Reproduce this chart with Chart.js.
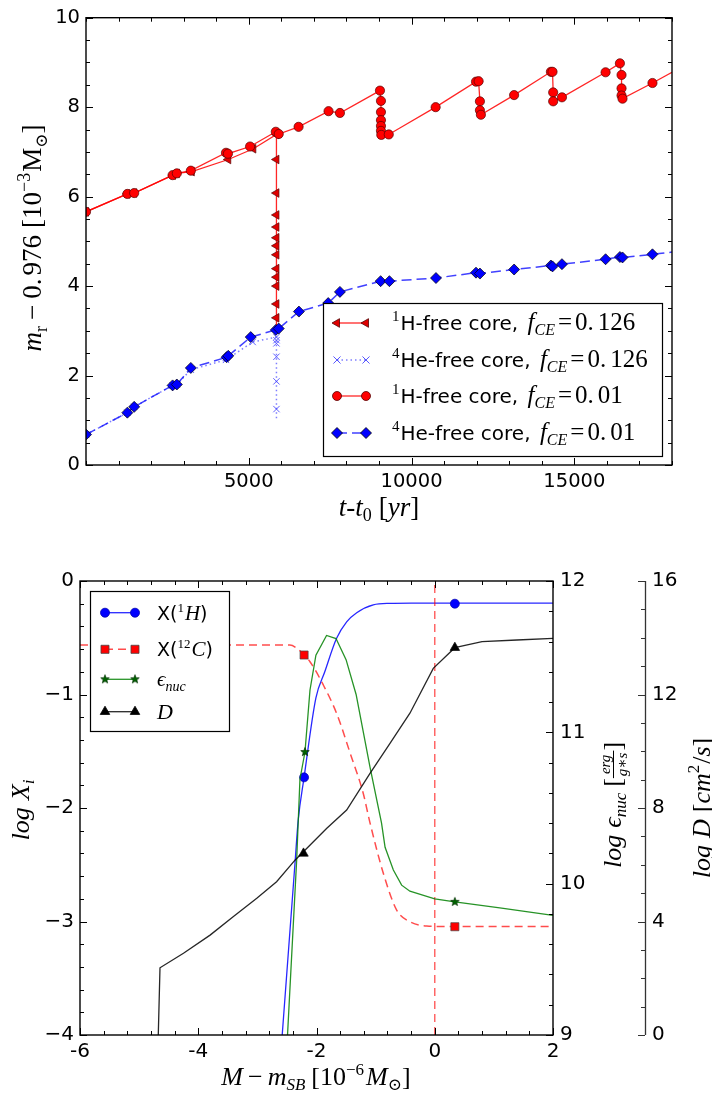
<!DOCTYPE html>
<html>
<head>
<meta charset="utf-8">
<script src="https://cdn.jsdelivr.net/npm/chart.js"></script>
<style>
  html, body { margin: 0; padding: 0; background: #fff; }
  #topChart { position: absolute; left: 0; top: 0; }
  #botChart { position: absolute; left: 0; top: 540px; }
</style>
</head>
<body>
<canvas id="topChart" width="712" height="540"></canvas>
<canvas id="botChart" width="712" height="555"></canvas>
<script>
  // ---------- top panel: t - t0 [yr] vs m_r - 0.976 [1e-3 Msun] ----------
  const h126T = [0, 1270, 1480, 2670, 2790, 3250, 4370, 5140, 5850, 5850, 5850, 5850, 5850, 5850, 5850, 5850, 5850, 5850, 5850, 5850, 5850, 5850];
  const h126M = [5.66, 6.06, 6.08, 6.48, 6.52, 6.56, 6.83, 7.07, 7.39, 6.83, 6.08, 5.59, 5.32, 5.08, 4.90, 4.70, 4.39, 4.20, 4.00, 3.60, 3.29, 3.04];

  const he126T = [0, 1270, 1480, 2660, 2790, 3220, 4300, 5120, 5850, 5850, 5850, 5850, 5850, 5850, 5850];
  const he126M = [0.68, 1.17, 1.30, 1.78, 1.80, 2.13, 2.35, 2.75, 2.86, 2.79, 2.72, 2.42, 1.87, 1.25, 1.03];

  const h01T = [0, 1270, 1480, 2660, 2790, 3220, 4300, 4360, 5040, 5830, 5920, 6530, 7450, 7800,
                9030, 9060, 9060, 9060, 9060, 9060, 9070, 9300, 10740, 11980, 12060, 12100, 12100, 12130,
                13150, 14280, 14330, 14350, 14350, 14620, 15960, 16400, 16450, 16450, 16450, 16480, 17400, 18000];
  const h01M = [5.66, 6.06, 6.08, 6.48, 6.52, 6.58, 6.98, 6.96, 7.12, 7.45, 7.40, 7.56, 7.91, 7.87,
                8.37, 8.14, 7.89, 7.71, 7.58, 7.47, 7.38, 7.39, 8.00, 8.57, 8.58, 8.13, 7.93, 7.83,
                8.27, 8.79, 8.79, 8.33, 8.13, 8.22, 8.78, 8.98, 8.72, 8.42, 8.26, 8.19, 8.54, 8.78];

  const he01T = [0, 1270, 1480, 2660, 2790, 3220, 4320, 4370, 5060, 5830, 5920, 6540, 7440, 7800,
                 9050, 9320, 10750, 11980, 12100, 13150, 14280, 14330, 14620, 15960, 16400, 16480, 17400, 18000];
  const he01M = [0.68, 1.17, 1.30, 1.78, 1.80, 2.17, 2.41, 2.44, 2.86, 3.02, 3.05, 3.43, 3.62, 3.87,
                 4.11, 4.11, 4.18, 4.30, 4.28, 4.37, 4.46, 4.44, 4.49, 4.60, 4.65, 4.64, 4.71, 4.76];

  const topXTicks = [5000, 10000, 15000];
  const topYTicks = [0, 2, 4, 6, 8, 10];

  // ---------- bottom panel: M - m_SB [1e-6 Msun] ----------
  const hX = [-2.58, -2.36, -2.31, -2.21, -2.01, -1.86, -1.66, -1.49, -1.32, -1.04, -0.76, -0.40, 0.34, 2.0];
  const hY = [-4.0, -2.46, -2.11, -1.73, -1.03, -0.80, -0.505, -0.36, -0.28, -0.21, -0.197, -0.195, -0.195, -0.195];
  const hMarkX = [-2.21, 0.34];
  const hMarkY = [-1.73, -0.20];

  const cX = [-6.0, -2.45, -2.33, -2.21, -2.11, -1.885, -1.66, -1.43, -1.21, -1.10, -0.87, -0.644, -0.419, -0.136, 0.34, 2.0];
  const cY = [-0.564, -0.564, -0.593, -0.652, -0.711, -0.916, -1.166, -1.518, -1.87, -2.12, -2.575, -2.899, -3.002, -3.04, -3.045, -3.045];
  const cMarkX = [-2.21, 0.34];
  const cMarkY = [-0.652, -3.046];

  const epsX = [-2.49, -2.335, -2.28, -2.195, -2.11, -2.01, -1.83, -1.67, -1.50, -1.33, -1.095, -0.90, -0.84, -0.70, -0.56, -0.42, 0.0, 0.34, 1.10, 1.64, 2.0];
  const epsY = [9.0, 10.16, 10.69, 10.87, 11.28, 11.51, 11.64, 11.62, 11.48, 11.25, 10.77, 10.40, 10.24, 10.09, 9.99, 9.95, 9.90, 9.88, 9.84, 9.81, 9.79];
  const epsMarkX = [-2.195, 0.34];
  const epsMarkY = [10.87, 9.88];

  const dX = [-4.676, -4.647, -4.25, -3.80, -3.41, -3.01, -2.675, -2.36, -1.83, -1.49, -1.095, -0.757, -0.42, -0.025, 0.34, 0.80, 1.39, 2.0];
  const dY = [0, 2.37, 2.88, 3.52, 4.17, 4.82, 5.40, 6.17, 7.28, 7.93, 9.22, 10.28, 11.34, 12.92, 13.65, 13.86, 13.92, 13.98];
  const dMarkX = [-2.22, 0.34];
  const dMarkY = [6.40, 13.65];

  const sbX = [0, 0];
  const sbY = [-4, 0];

  const botXTicks = [-6, -4, -2, 0, 2];
  const logXTicks = [-4, -3, -2, -1, 0];
  const epsTicks = [9, 10, 11, 12];
  const dTicks = [0, 4, 8, 12, 16];

  // ---------- helpers ----------
  const SANS = "'DejaVu Sans', sans-serif";
  const SERIF = "'Liberation Serif', 'DejaVu Serif', serif";
  Chart.defaults.color = '#000';
  Chart.defaults.font.family = SANS;

  const pts = (xs, ys) => xs.map((x, i) => ({ x: x, y: ys[i] }));
  const steps = (a, b, s) => {
    const out = [];
    for (let i = 0; a + i * s <= b + 1e-9; i++) out.push(+(a + i * s).toFixed(6));
    return out;
  };
  const noLast = r => c => (c.dataIndex === c.dataset.data.length - 1 ? 0 : r);
  const fixTicks = list => s => { s.ticks = list.map(v => ({ value: v })); };

  const it = (t, s, dy, g) => ({ t: t, f: 'italic ' + s + 'px ' + SERIF, dy: dy || 0, g: g || 0 });
  const rm = (t, s, dy, g) => ({ t: t, f: s + 'px ' + SERIF, dy: dy || 0, g: g || 0 });
  const sa = (t, s, dy, g) => ({ t: t, f: s + 'px ' + SANS, dy: dy || 0, g: g || 0 });

  function partWidth(ctx, p) {
    ctx.font = p.f;
    if (p.frac) return Math.max(ctx.measureText(p.frac[0]).width, ctx.measureText(p.frac[1]).width) + 4 + p.g;
    return ctx.measureText(p.t).width + p.g;
  }
  function richWidth(ctx, parts) {
    return parts.reduce((w, p) => w + partWidth(ctx, p), 0);
  }
  function drawRich(ctx, parts, x, y) {
    ctx.fillStyle = '#000';
    ctx.textBaseline = 'alphabetic';
    ctx.textAlign = 'left';
    parts.forEach(p => {
      ctx.font = p.f;
      if (p.frac) {
        const w1 = ctx.measureText(p.frac[0]).width, w2 = ctx.measureText(p.frac[1]).width;
        const w = Math.max(w1, w2) + 4;
        ctx.fillText(p.frac[0], x + (w - w1) / 2, y - 11);
        ctx.fillText(p.frac[1], x + (w - w2) / 2, y + 6);
        ctx.save();
        ctx.strokeStyle = '#000';
        ctx.lineWidth = 1;
        ctx.beginPath();
        ctx.moveTo(x, y - 7.5);
        ctx.lineTo(x + w, y - 7.5);
        ctx.stroke();
        ctx.restore();
      } else {
        ctx.fillText(p.t, x, y + p.dy);
      }
      x += partWidth(ctx, p);
    });
  }
  function title(ctx, parts, cx, cy, rot, base) {
    ctx.save();
    ctx.translate(cx, cy);
    if (rot) ctx.rotate(rot);
    const w = richWidth(ctx, parts);
    drawRich(ctx, parts, -w / 2, base);
    ctx.restore();
  }

  function starImg(r, fill, edge) {
    const c = document.createElement('canvas');
    c.width = c.height = Math.ceil(2 * r + 3);
    const g = c.getContext('2d');
    const m = c.width / 2;
    g.beginPath();
    for (let i = 0; i < 10; i++) {
      const a = -Math.PI / 2 + i * Math.PI / 5;
      const rr = i % 2 ? r * 0.42 : r;
      const px = m + rr * Math.cos(a), py = m + rr * Math.sin(a);
      if (i === 0) g.moveTo(px, py); else g.lineTo(px, py);
    }
    g.closePath();
    g.fillStyle = fill;
    g.fill();
    g.strokeStyle = edge;
    g.lineWidth = 0.7;
    g.stroke();
    return c;
  }
  const STAR = starImg(4.5, '#006400', '#003000');

  function drawMark(ctx, m, x, y) {
    ctx.save();
    ctx.setLineDash([]);
    if (m.img) {
      ctx.drawImage(m.img, x - m.img.width / 2, y - m.img.height / 2);
      ctx.restore();
      return;
    }
    const r = m.r;
    ctx.fillStyle = m.fill || '#000';
    ctx.strokeStyle = m.edge || '#000';
    ctx.lineWidth = m.lw || 0.8;
    ctx.beginPath();
    if (m.shape === 'circle') {
      ctx.arc(x, y, r, 0, Math.PI * 2);
    } else if (m.shape === 'diamond') {
      ctx.moveTo(x - r, y); ctx.lineTo(x, y - r); ctx.lineTo(x + r, y); ctx.lineTo(x, y + r); ctx.closePath();
    } else if (m.shape === 'triLeft') {
      ctx.moveTo(x - r, y); ctx.lineTo(x + r / 2, y - r * 0.866); ctx.lineTo(x + r / 2, y + r * 0.866); ctx.closePath();
    } else if (m.shape === 'triUp') {
      ctx.moveTo(x, y - r); ctx.lineTo(x + r * 0.866, y + r / 2); ctx.lineTo(x - r * 0.866, y + r / 2); ctx.closePath();
    } else if (m.shape === 'square') {
      const s = r * Math.SQRT1_2;
      ctx.rect(x - s, y - s, 2 * s, 2 * s);
    } else if (m.shape === 'x') {
      const s = r * Math.SQRT1_2;
      ctx.moveTo(x - s, y - s); ctx.lineTo(x + s, y + s);
      ctx.moveTo(x + s, y - s); ctx.lineTo(x - s, y + s);
    }
    if (m.shape !== 'x') ctx.fill();
    ctx.stroke();
    ctx.restore();
  }

  function drawLegend(ctx, box, rows) {
    ctx.save();
    ctx.fillStyle = '#fff';
    ctx.fillRect(box.x, box.y, box.w, box.h);
    ctx.strokeStyle = '#000';
    ctx.lineWidth = 1.2;
    ctx.setLineDash([]);
    ctx.strokeRect(box.x + 0.5, box.y + 0.5, box.w, box.h);
    rows.forEach((row, i) => {
      const y = box.rows[i];
      ctx.save();
      ctx.strokeStyle = row.line.color;
      ctx.lineWidth = row.line.w;
      ctx.setLineDash(row.line.dash || []);
      ctx.beginPath();
      ctx.moveTo(box.l0, y);
      ctx.lineTo(box.l1, y);
      ctx.stroke();
      ctx.restore();
      drawMark(ctx, row.mark, box.l0, y);
      drawMark(ctx, row.mark, box.l1, y);
      drawRich(ctx, row.text, box.tx, y + box.base);
    });
    ctx.restore();
  }

  function inTicks(ctx, scale, vals, len, edge, dir) {
    ctx.beginPath();
    vals.forEach(v => {
      const p = Math.round(scale.getPixelForValue(v)) + 0.5;
      if (scale.isHorizontal()) { ctx.moveTo(p, edge); ctx.lineTo(p, edge + dir * len); }
      else { ctx.moveTo(edge, p); ctx.lineTo(edge + dir * len, p); }
    });
    ctx.stroke();
  }

  // ---------- top chart ----------
  const RED_LINE = 'rgba(255,0,0,0.85)';
  const BLUE_DASH = 'rgba(0,0,255,0.75)';
  const BLUE_DOT = 'rgba(40,40,255,0.6)';

  const fce = v => {
    const parts = [it('f', 25), it('CE', 16, 5, 3), rm('=', 25, 0, 3)];
    const dot = v.indexOf('.') + 1;
    return parts.concat([rm(v.slice(0, dot), 25, 0, 4), rm(v.slice(dot), 25)]);
  };
  const topLegendRows = [
    { line: { color: RED_LINE, w: 1.3 }, mark: { shape: 'triLeft', r: 5, fill: '#e00000', edge: '#500' },
      text: [rm('1', 15, -9, 1), sa('H-free core, ', 20, 0, 3)].concat(fce('0.126')) },
    { line: { color: BLUE_DOT, w: 1.5, dash: [1.5, 3] }, mark: { shape: 'x', r: 5, edge: 'rgba(70,70,255,0.9)', lw: 1 },
      text: [rm('4', 15, -9, 1), sa('He-free core, ', 20, 0, 3)].concat(fce('0.126')) },
    { line: { color: RED_LINE, w: 1.3 }, mark: { shape: 'circle', r: 4.5, fill: '#ff0000', edge: '#500' },
      text: [rm('1', 15, -9, 1), sa('H-free core, ', 20, 0, 3)].concat(fce('0.01')) },
    { line: { color: BLUE_DASH, w: 1.5, dash: [10, 5] }, mark: { shape: 'diamond', r: 5.5, fill: '#0000ff', edge: '#000' },
      text: [rm('4', 15, -9, 1), sa('He-free core, ', 20, 0, 3)].concat(fce('0.01')) }
  ];

  const topDecor = {
    id: 'topDecor',
    afterDraw(chart) {
      const ctx = chart.ctx, a = chart.chartArea, x = chart.scales.x, y = chart.scales.y;
      ctx.save();
      ctx.strokeStyle = '#000';
      ctx.lineWidth = 1;
      const xm = steps(0, 18000, 1000), ym = steps(0, 10, 0.5);
      inTicks(ctx, x, xm, 4, a.bottom, -1);
      inTicks(ctx, x, xm, 4, a.top, 1);
      inTicks(ctx, x, topXTicks, 7, a.bottom, -1);
      inTicks(ctx, x, topXTicks, 7, a.top, 1);
      inTicks(ctx, y, ym, 4, a.left, 1);
      inTicks(ctx, y, ym, 4, a.right, -1);
      inTicks(ctx, y, topYTicks, 7, a.left, 1);
      inTicks(ctx, y, topYTicks, 7, a.right, -1);
      ctx.lineWidth = 1.4;
      ctx.strokeRect(a.left, a.top, a.right - a.left, a.bottom - a.top);
      ctx.restore();

      drawLegend(ctx, { x: 323, y: 303, w: 339, h: 153, rows: [323, 360, 396, 433], l0: 337, l1: 366, tx: 392, base: 7 }, topLegendRows);

      title(ctx, [it('m', 27), rm('r', 18, 6, 6), rm('\u2212', 27, 0, 6), rm('0.', 27, 0, 3), rm('976', 27, 0, 7),
                  rm('[10', 27), rm('\u22123', 18, -11, 1), rm('M', 27), rm('\u2299', 17, 6), rm(']', 27)],
            32, 238, -Math.PI / 2, 9);
      title(ctx, [it('t', 27), rm('-', 27), it('t', 27), rm('0', 18, 5, 7), rm('[', 27), it('yr', 27), rm(']', 27)],
            379, 508, 0, 8);
    }
  };

  new Chart(document.getElementById('topChart'), {
    type: 'scatter',
    data: {
      datasets: [
        {
          data: pts(h126T, h126M), showLine: true, order: 4, clip: 0,
          borderColor: RED_LINE, borderWidth: 1.3,
          pointStyle: 'triangle', rotation: -90, pointRadius: noLast(5),
          pointBackgroundColor: '#e00000', pointBorderColor: '#500', pointBorderWidth: 0.7
        },
        {
          data: pts(he126T, he126M), showLine: true, order: 3, clip: 0,
          borderColor: BLUE_DOT, borderWidth: 1.5, borderDash: [1.5, 3],
          pointStyle: 'crossRot', pointRadius: noLast(4.5),
          pointBorderColor: 'rgba(70,70,255,0.85)', pointBorderWidth: 1
        },
        {
          data: pts(h01T, h01M), showLine: true, order: 2, clip: 0,
          borderColor: RED_LINE, borderWidth: 1.3,
          pointStyle: 'circle', pointRadius: noLast(4.6),
          pointBackgroundColor: '#ff0000', pointBorderColor: '#500', pointBorderWidth: 0.7
        },
        {
          data: pts(he01T, he01M), showLine: true, order: 1, clip: 0,
          borderColor: BLUE_DASH, borderWidth: 1.5, borderDash: [10, 5],
          pointStyle: 'rectRot', pointRadius: noLast(5.5),
          pointBackgroundColor: '#0000ff', pointBorderColor: '#000', pointBorderWidth: 0.7
        }
      ]
    },
    options: {
      responsive: false,
      animation: false,
      events: [],
      layout: { padding: { top: 11, right: 40, left: 0, bottom: 0 }, autoPadding: false },
      plugins: { legend: { display: false }, tooltip: { enabled: false } },
      scales: {
        x: {
          type: 'linear', min: 0, max: 18000,
          afterBuildTicks: fixTicks(topXTicks),
          afterFit: s => { s.height = 75; },
          grid: { display: false, drawTicks: false }, border: { display: false },
          ticks: { font: { size: 19.5 }, color: '#000', padding: 5, maxRotation: 0, autoSkip: false, callback: v => String(v) }
        },
        y: {
          type: 'linear', min: 0, max: 10,
          afterBuildTicks: fixTicks(topYTicks),
          afterFit: s => { s.width = 86; },
          grid: { display: false, drawTicks: false }, border: { display: false },
          ticks: { font: { size: 19.5 }, color: '#000', padding: 6, callback: v => String(v) }
        }
      }
    },
    plugins: [topDecor]
  });

  // ---------- bottom chart ----------
  const C_BLUE = 'rgba(0,0,255,0.85)';
  const C_RED = 'rgba(255,0,0,0.7)';
  const C_GREEN = 'rgba(0,128,0,0.85)';
  const C_BLACK = 'rgba(0,0,0,0.85)';

  const botLegendRows = [
    { line: { color: C_BLUE, w: 1.3 }, mark: { shape: 'circle', r: 4.5, fill: '#0000ff', edge: '#0000aa' },
      text: [sa('X(', 19), rm('1', 13, -8, 1), it('H', 21), sa(')', 19)] },
    { line: { color: C_RED, w: 1.5, dash: [8, 5] }, mark: { shape: 'square', r: 5.7, fill: '#ff0000', edge: '#444' },
      text: [sa('X(', 19), rm('12', 13, -8, 1), it('C', 21), sa(')', 19)] },
    { line: { color: C_GREEN, w: 1.3 }, mark: { img: STAR },
      text: [it('\u03f5', 21), it('nuc', 14, 5)] },
    { line: { color: C_BLACK, w: 1.3 }, mark: { shape: 'triUp', r: 5.5, fill: '#000', edge: '#000' },
      text: [it('D', 22)] }
  ];

  const botDecor = {
    id: 'botDecor',
    afterDraw(chart) {
      const ctx = chart.ctx, a = chart.chartArea, s = chart.scales;
      ctx.save();
      ctx.strokeStyle = '#000';
      ctx.lineWidth = 1;
      const xm = steps(-6, 2, 0.4);
      inTicks(ctx, s.x, xm, 4, a.bottom, -1);
      inTicks(ctx, s.x, xm, 4, a.top, 1);
      inTicks(ctx, s.x, botXTicks, 7, a.bottom, -1);
      inTicks(ctx, s.x, botXTicks, 7, a.top, 1);
      inTicks(ctx, s.y, steps(-4, 0, 0.2), 4, a.left, 1);
      inTicks(ctx, s.y, logXTicks, 7, a.left, 1);
      inTicks(ctx, s.y1, steps(9, 12, 0.2), 4, a.right, -1);
      inTicks(ctx, s.y1, epsTicks, 7, a.right, -1);
      const ax2 = s.y2.left;
      ctx.strokeStyle = '#333';
      inTicks(ctx, s.y2, steps(0, 16, 1), 4, ax2, -1);
      inTicks(ctx, s.y2, dTicks, 7, ax2, -1);
      ctx.lineWidth = 1.3;
      ctx.beginPath();
      ctx.moveTo(ax2 + 0.5, a.top);
      ctx.lineTo(ax2 + 0.5, a.bottom);
      ctx.stroke();
      ctx.strokeStyle = '#000';
      ctx.lineWidth = 1.4;
      ctx.strokeRect(a.left, a.top, a.right - a.left, a.bottom - a.top);
      ctx.restore();

      drawLegend(ctx, { x: 90, y: 51, w: 139, h: 140, rows: [72.7, 109.3, 139.3, 171.7], l0: 105, l1: 135, tx: 157, base: 7 }, botLegendRows);

      title(ctx, [it('M', 26, 0, 5), rm('\u2212', 26, 0, 5), it('m', 26), it('SB', 17, 5, 6),
                  rm('[10', 26), rm('\u22126', 17, -10, 2), it('M', 26), rm('\u2299', 17, 5), rm(']', 26)],
            316, 537, 0, 8);
      title(ctx, [it('log', 26, 0, 7), it('X', 26), it('i', 17, 5)], 20, 270, -Math.PI / 2, 9);
      title(ctx, [it('log', 26, 0, 7), it('\u03f5', 26), it('nuc', 17, 5, 6), rm('[', 26),
                  { frac: ['erg', 'g\u2217s'], f: 'italic 15px ' + SERIF, g: 0 }, rm(']', 26)],
            612, 265, -Math.PI / 2, 9);
      title(ctx, [it('log', 26, 0, 7), it('D', 26, 0, 7), rm('[', 26), it('cm', 26), rm('2', 17, -11, 1),
                  rm('/', 26), it('s', 26), rm(']', 26)],
            701, 268, -Math.PI / 2, 9);
    }
  };

  new Chart(document.getElementById('botChart'), {
    type: 'scatter',
    data: {
      datasets: [
        { data: pts(hX, hY), yAxisID: 'y', showLine: true, order: 9, clip: 0, borderColor: C_BLUE, borderWidth: 1.3, pointRadius: 0,
          cubicInterpolationMode: 'monotone' },
        { data: pts(hMarkX, hMarkY), yAxisID: 'y', order: 8, clip: 0, pointStyle: 'circle', pointRadius: 4.5,
          pointBackgroundColor: '#0000ff', pointBorderColor: '#0000aa', pointBorderWidth: 0.7 },
        { data: pts(cX, cY), yAxisID: 'y', showLine: true, order: 7, clip: 0, borderColor: C_RED, borderWidth: 1.5, borderDash: [8, 5], pointRadius: 0,
          cubicInterpolationMode: 'monotone' },
        { data: pts(cMarkX, cMarkY), yAxisID: 'y', order: 6, clip: 0, pointStyle: 'rect', pointRadius: 5.7,
          pointBackgroundColor: '#ff0000', pointBorderColor: '#444', pointBorderWidth: 0.7 },
        { data: pts(sbX, sbY), yAxisID: 'y', showLine: true, order: 5, clip: 0, borderColor: 'rgba(255,0,0,0.6)', borderWidth: 1.5, borderDash: [8, 5], pointRadius: 0 },
        { data: pts(epsX, epsY), yAxisID: 'y1', showLine: true, order: 4, clip: 0, borderColor: C_GREEN, borderWidth: 1.3, pointRadius: 0 },
        { data: pts(epsMarkX, epsMarkY), yAxisID: 'y1', order: 3, clip: 0, pointStyle: STAR, pointRadius: 4.5 },
        { data: pts(dX, dY), yAxisID: 'y2', showLine: true, order: 2, clip: 0, borderColor: C_BLACK, borderWidth: 1.3, pointRadius: 0 },
        { data: pts(dMarkX, dMarkY), yAxisID: 'y2', order: 1, clip: 0, pointStyle: 'triangle', pointRadius: 5.5,
          pointBackgroundColor: '#000', pointBorderColor: '#000', pointBorderWidth: 0.7 }
      ]
    },
    options: {
      responsive: false,
      animation: false,
      events: [],
      layout: { padding: { top: 41, right: 0, left: 0, bottom: 0 }, autoPadding: false },
      plugins: { legend: { display: false }, tooltip: { enabled: false } },
      scales: {
        x: {
          type: 'linear', min: -6, max: 2,
          afterBuildTicks: fixTicks(botXTicks),
          afterFit: s => { s.height = 60; },
          grid: { display: false, drawTicks: false }, border: { display: false },
          ticks: { font: { size: 20 }, color: '#000', padding: 5, maxRotation: 0, autoSkip: false, callback: v => String(v) }
        },
        y: {
          type: 'linear', position: 'left', min: -4, max: 0,
          afterBuildTicks: fixTicks(logXTicks),
          afterFit: s => { s.width = 80; },
          grid: { display: false, drawTicks: false }, border: { display: false },
          ticks: { font: { size: 20 }, color: '#000', padding: 6, callback: v => String(v).replace('-', '\u2212') }
        },
        y1: {
          type: 'linear', position: 'right', weight: 0, min: 9, max: 12,
          afterBuildTicks: fixTicks(epsTicks),
          afterFit: s => { s.width = 92; },
          grid: { display: false, drawTicks: false }, border: { display: false },
          ticks: { font: { size: 20 }, color: '#000', padding: 7, callback: v => String(v) }
        },
        y2: {
          type: 'linear', position: 'right', weight: 1, min: 0, max: 16,
          afterBuildTicks: fixTicks(dTicks),
          afterFit: s => { s.width = 67; },
          grid: { display: false, drawTicks: false }, border: { display: false },
          ticks: { font: { size: 20 }, color: '#000', padding: 7, callback: v => String(v) }
        }
      }
    },
    plugins: [botDecor]
  });
</script>
</body>
</html>
